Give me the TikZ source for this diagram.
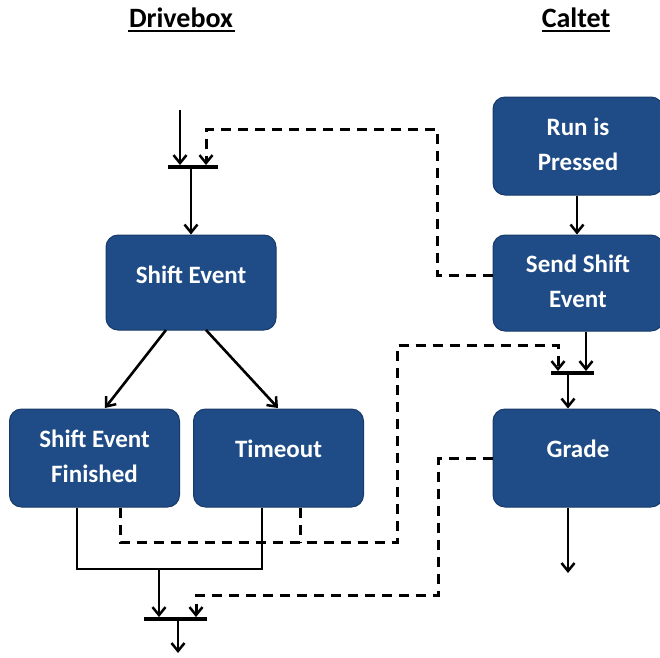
\documentclass[tikz,border=0pt]{standalone}
\usepackage{fontspec}
\setmainfont{Carlito}
\usetikzlibrary{arrows.meta}
\definecolor{boxblue}{RGB}{31,76,134}
\definecolor{boxedge}{RGB}{24,58,104}
\begin{document}
\begin{tikzpicture}[x=1pt,y=-1pt,
  box/.style={draw=boxedge,line width=1pt,fill=boxblue,rounded corners=12pt,
    minimum width=170pt,inner sep=0pt},
  lbl/.style={text=white,font=\bfseries\fontsize{25}{35}\selectfont,align=center},
  title/.style={font=\bfseries\fontsize{28}{32}\selectfont},
  bar/.style={fill=black,minimum height=3.5pt,inner sep=0pt},
  tip/.style={-{Straight Barb[length=8pt,width=13pt,line width=2.5pt]}},
  flow/.style={line width=2.6pt,tip},
  wire/.style={line width=2.6pt},
  sig/.style={line width=3pt,dash pattern=on 10pt off 7pt},
  sigarrow/.style={sig,tip}]
\useasboundingbox (0,0) rectangle (660,657);

% column titles
\node[title] (tdrive) at (181,18) {Drivebox};
\draw[line width=2pt] (128,31) -- (235,31);
\node[title] (tcal) at (576,18) {Caltet};
\draw[line width=2pt] (542,31) -- (610,31);

% Drivebox states
\node[box,minimum height=95pt] (se) at (191,282.5) {};
\node[lbl] (sel) at (191,275) {Shift Event};
\node[box,minimum height=98pt] (sef) at (94.5,458) {};
\node[lbl] (sefl) at (94.5,456) {Shift Event\\Finished};
\node[box,minimum height=98pt] (to) at (278.5,458) {};
\node[lbl] (tol) at (278.5,449) {Timeout};

% Caltet states
\node[box,minimum height=98pt] (run) at (578,146) {};
\node[lbl] (runl) at (578,144) {Run is\\Pressed};
\node[box,minimum height=96pt] (sse) at (578,283) {};
\node[lbl] (ssel) at (578,281) {Send Shift\\Event};
\node[box,minimum height=98pt] (grade) at (578,458) {};
\node[lbl] (gradel) at (578,449) {Grade};

% synchronisation bars
\node[bar,minimum width=50pt] (bar1) at (193,167) {};
\node[bar,minimum width=63pt] (bar2) at (175.5,619) {};
\node[bar,minimum width=43pt] (bar3) at (572.5,373) {};

% free ends
\coordinate (in1) at (180,110);
\coordinate (out2) at (178,653);
\coordinate (out3) at (568,573);
\coordinate (join) at (159,569);

% Drivebox flow
\draw[flow] (in1) -- (bar1.north -| in1);
\draw[flow] (bar1.south -| 191,0) -- (se.north -| 191,0);
\draw[flow] (166,330) -- (105,408);
\draw[flow] (206,330) -- (278,408);
\draw[wire] (sef.south -| 77,0) -- (77,569) -- (262,569) -- (to.south -| 262,0);
\draw[flow] (join) -- (bar2.north -| join);
\draw[flow] (bar2.south -| out2) -- (out2);

% Caltet flow
\draw[flow] (run.south -| 577,0) -- (sse.north -| 577,0);
\draw[flow] (sse.south -| 586,0) -- (bar3.north -| 586,0);
\draw[flow] (bar3.south -| out3) -- (grade.north -| out3);
\draw[flow] (grade.south -| out3) -- (out3);

% signals between the two sides
\draw[sigarrow] (sse.west |- 0,275) -- (437,275) -- (437,129) -- (206,129) -- (bar1.north -| 206,0);
\draw[sigarrow] (sef.south -| 120,0) -- (120,542) -- (397,542) -- (397,345) -- (558,345) -- (bar3.north -| 558,0);
\draw[sig] (to.south -| 300,0) -- (300,542);
\draw[sigarrow] (grade.west |- 0,458) -- (438,458) -- (438,595) -- (196,595) -- (bar2.north -| 196,0);
\end{tikzpicture}
\end{document}
